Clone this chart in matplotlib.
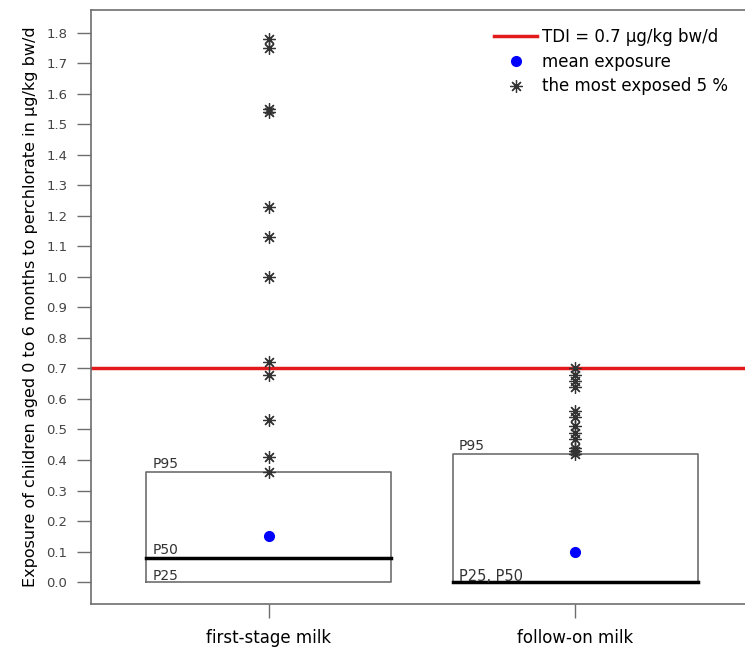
import matplotlib.pyplot as plt
from matplotlib.lines import Line2D

plt.rcParams['font.family'] = ['DejaVu Sans']

groups = ['first-stage milk', 'follow-on milk']
p25 = [0.0, 0.0]
p50 = [0.08, 0.0]
p95 = [0.36, 0.42]
means = [0.15, 0.10]
top5_first = [1.78, 1.75, 1.55, 1.54, 1.23, 1.13, 1.00, 0.72, 0.68, 0.53, 0.41, 0.36]
top5_follow = [0.70, 0.68, 0.66, 0.64, 0.56, 0.54, 0.51, 0.49, 0.47, 0.44, 0.43, 0.42]
tdi = 0.7
yticks = [i / 10 for i in range(19)]

fig = plt.figure(figsize=(7.45, 6.55), dpi=100)
ax = fig.add_axes([91 / 745, 51 / 655, 662 / 745, 594 / 655])

grey = '#6e6e6e'
txt = '#333333'
for i, g in enumerate(groups):
    x = i + 1
    # box from P25 to P95
    ax.plot([x - 0.4, x + 0.4, x + 0.4, x - 0.4, x - 0.4],
            [p25[i], p25[i], p95[i], p95[i], p25[i]], color=grey, lw=1.2, zorder=2)
    ax.plot([x - 0.4, x + 0.4], [p50[i], p50[i]], color='black', lw=2.5, zorder=3)
    ax.plot(x, means[i], 'o', color='blue', ms=7, zorder=4)

ax.plot([1] * len(top5_first), top5_first, ls='none', marker=(8, 2, 0), ms=9,
        mec='#333333', mew=0.9, zorder=4)
ax.plot([2] * len(top5_follow), top5_follow, ls='none', marker=(8, 2, 0), ms=9,
        mec='#333333', mew=0.9, zorder=4)

# percentile labels
ax.text(0.62, p95[0] + 0.003, 'P95', fontsize=10, color=txt, va='bottom')
ax.text(0.62, p50[0] + 0.003, 'P50', fontsize=10, color=txt, va='bottom')
ax.text(0.62, p25[0] - 0.002, 'P25', fontsize=10, color=txt, va='bottom')
ax.text(1.62, p95[1] + 0.003, 'P95', fontsize=10, color=txt, va='bottom')
ax.text(1.62, p25[1] - 0.005, 'P25, P50', fontsize=10.5, color=txt, va='bottom')

ax.axhline(tdi, color='#e31a1c', lw=2.5, zorder=1)

ax.set_xlim(0.42, 2.58)
ax.set_ylim(-0.072, 1.875)
ax.set_xticks([1, 2])
ax.set_xticklabels(groups, fontsize=12)
ax.set_yticks(yticks)
ax.set_yticklabels(['%.1f' % t for t in yticks], fontsize=9.5, color='#444444')
ax.tick_params(axis='both', direction='out', length=10, width=1, color=grey, pad=7)
ax.tick_params(axis='x', pad=8)
for s in ax.spines.values():
    s.set_color(grey)
    s.set_linewidth(1.2)
ax.set_ylabel('Exposure of children aged 0 to 6 months to perchlorate in µg/kg bw/d',
              fontsize=11.5, labelpad=6)

handles = [
    Line2D([], [], color='#e31a1c', lw=2.5),
    Line2D([], [], ls='none', marker='o', color='blue', ms=7),
    Line2D([], [], ls='none', marker=(8, 2, 0), ms=9, mec='#333333', mew=0.9),
]
fig.legend(handles, ['TDI = 0.7 µg/kg bw/d', 'mean exposure', 'the most exposed 5 %'],
           loc='upper left', bbox_to_anchor=(494 / 745, 1 - 28 / 655), frameon=False,
           fontsize=12, handlelength=2.6, labelspacing=0.4, handletextpad=0.3,
           borderaxespad=0, borderpad=0)

fig.savefig('out.png', dpi=100)
